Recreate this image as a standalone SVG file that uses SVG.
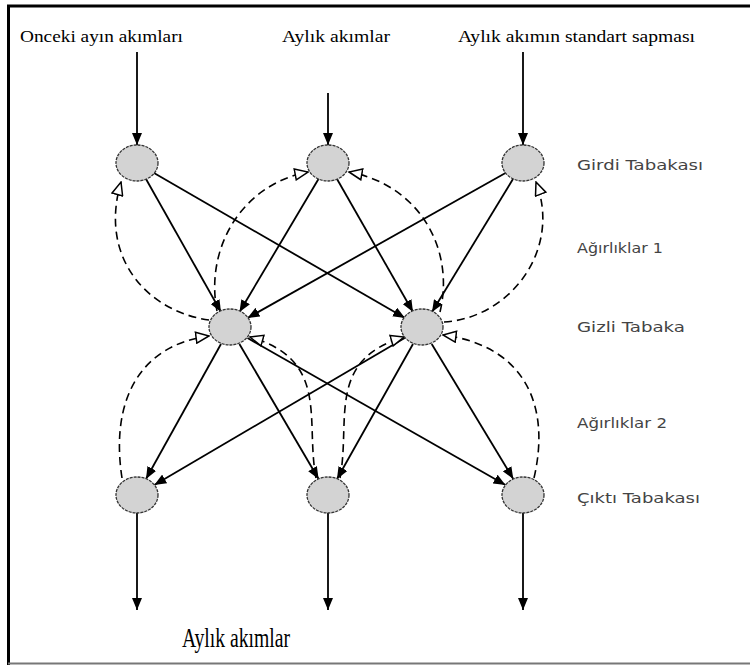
<svg xmlns="http://www.w3.org/2000/svg" width="750" height="665" viewBox="0 0 750 665">
<defs>
<marker id="solid" viewBox="0 0 12 10" refX="12" refY="5" markerWidth="12" markerHeight="10" markerUnits="userSpaceOnUse" orient="auto">
<path d="M0,0 L12,5 L0,10 Z" fill="#000"/>
</marker>
<marker id="open" viewBox="-1 -1 15 13" refX="13" refY="5.5" markerWidth="15" markerHeight="13" markerUnits="userSpaceOnUse" orient="auto">
<path d="M0,0 L13,5.5 L0,11 Z" fill="#fff" stroke="#000" stroke-width="1.5"/>
</marker>
<style>
.node ellipse{fill:#d3d3d3;stroke:#333;stroke-width:1.3;stroke-dasharray:3 1}
.sol{fill:none;stroke:#000;stroke-width:1.8;marker-end:url(#solid)}
.dash{fill:none;stroke:#000;stroke-width:1.6;stroke-dasharray:8 5;marker-end:url(#open)}
.top{font-family:"Liberation Serif",serif;font-size:17px;fill:#000}
.side{font-family:"DejaVu Sans","Liberation Sans",sans-serif;font-size:14px;fill:#444}
.bottom{font-family:"Liberation Serif",serif;font-size:27px;fill:#000}
</style>
</defs>
<rect x="0" y="0" width="750" height="665" fill="#fff"/>
<path d="M8.5,665 L8.5,6 L752,6" fill="none" stroke="#000" stroke-width="3"/>
<line x1="8" y1="663.5" x2="750" y2="663.5" stroke="#777" stroke-width="2"/>

<g id="labels">
<text class="top" x="20" y="42" textLength="163" lengthAdjust="spacingAndGlyphs">Onceki ayın akımları</text>
<text class="top" x="282" y="42" textLength="108" lengthAdjust="spacingAndGlyphs">Aylık akımlar</text>
<text class="top" x="458" y="42" textLength="237" lengthAdjust="spacingAndGlyphs">Aylık akımın standart sapması</text>
<text class="side" x="577" y="170" textLength="126" lengthAdjust="spacingAndGlyphs">Girdi Tabakası</text>
<text class="side" x="577" y="253" textLength="86" lengthAdjust="spacingAndGlyphs">Ağırlıklar 1</text>
<text class="side" x="577" y="332" textLength="108" lengthAdjust="spacingAndGlyphs">Gizli Tabaka</text>
<text class="side" x="577" y="428" textLength="90" lengthAdjust="spacingAndGlyphs">Ağırlıklar 2</text>
<text class="side" x="577" y="503" textLength="123" lengthAdjust="spacingAndGlyphs">Çıktı Tabakası</text>
<text class="bottom" x="182" y="647" textLength="108" lengthAdjust="spacingAndGlyphs">Aylık akımlar</text>
</g>

<g id="connectors">
<line class="sol" x1="137" y1="52" x2="137" y2="145"/>
<line class="sol" x1="328" y1="93" x2="328" y2="145"/>
<line class="sol" x1="523" y1="52" x2="523" y2="145"/>
<line class="sol" x1="146" y1="179" x2="221" y2="312"/>
<line class="sol" x1="154" y1="173" x2="405" y2="318"/>
<line class="sol" x1="318.5" y1="179" x2="239.5" y2="312"/>
<line class="sol" x1="337" y1="179" x2="413" y2="312"/>
<line class="sol" x1="505.5" y1="173" x2="247.5" y2="318"/>
<line class="sol" x1="513" y1="179" x2="432" y2="312"/>
<line class="sol" x1="221" y1="344" x2="146" y2="479"/>
<line class="sol" x1="239.4" y1="344" x2="318.6" y2="479"/>
<line class="sol" x1="247.5" y1="338" x2="505.5" y2="485"/>
<line class="sol" x1="404.7" y1="338" x2="154.3" y2="485"/>
<line class="sol" x1="413" y1="344" x2="337" y2="479"/>
<line class="sol" x1="431.7" y1="344" x2="513.3" y2="479"/>
<line class="sol" x1="137" y1="513" x2="137" y2="610"/>
<line class="sol" x1="328" y1="513" x2="328" y2="610"/>
<line class="sol" x1="523" y1="513" x2="523" y2="610"/>
<path class="dash" d="M209,320 C150,312 98,260 121,182"/>
<path class="dash" d="M217,311 C205,250 240,185 308,172"/>
<path class="dash" d="M440,312 C455,250 420,185 349,172"/>
<path class="dash" d="M444,322 C510,318 562,250 536,182"/>
<path class="dash" d="M122,478 C110,400 140,345 209,336"/>
<path class="dash" d="M316,478 C305,420 330,360 250,337"/>
<path class="dash" d="M340,478 C351,420 326,360 404,337"/>
<path class="dash" d="M534,478 C552,400 520,345 443,335"/>
</g>

<g id="in1" class="node"><ellipse cx="137" cy="163" rx="21" ry="18"/></g>
<g id="in2" class="node"><ellipse cx="328" cy="163" rx="21" ry="18"/></g>
<g id="in3" class="node"><ellipse cx="523" cy="163" rx="21" ry="18"/></g>
<g id="h1" class="node"><ellipse cx="230" cy="327" rx="21" ry="18"/></g>
<g id="h2" class="node"><ellipse cx="422" cy="327" rx="21" ry="18"/></g>
<g id="out1" class="node"><ellipse cx="137" cy="495" rx="21" ry="18"/></g>
<g id="out2" class="node"><ellipse cx="328" cy="495" rx="21" ry="18"/></g>
<g id="out3" class="node"><ellipse cx="523" cy="495" rx="21" ry="18"/></g>
</svg>
